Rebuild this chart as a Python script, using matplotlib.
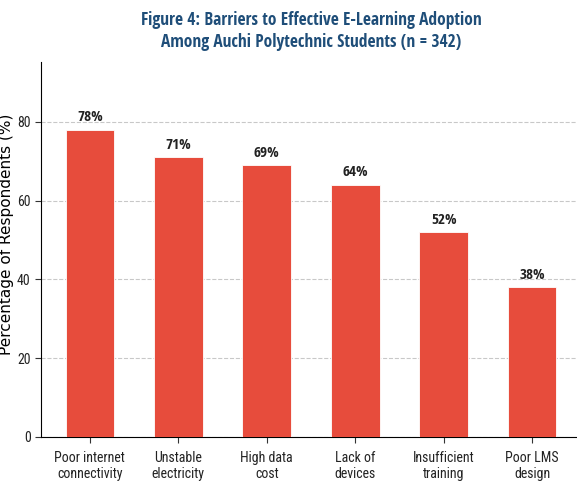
import matplotlib
matplotlib.use("Agg")
import matplotlib.pyplot as plt

# 数据
categories = ["Poor internet\nconnectivity", "Unstable\nelectricity", "High data\ncost",
              "Lack of\ndevices", "Insufficient\ntraining", "Poor LMS\ndesign"]
percentages = [78, 71, 69, 64, 52, 38]

BAR_COLOR = "#E74C3C"
TITLE_COLOR = "#1F4E79"
NARROW_BOLD = ["Open Sans Condensed", "Roboto Condensed", "DejaVu Sans"]
NARROW = ["Roboto Condensed", "DejaVu Sans"]

fig = plt.figure(figsize=(5.77, 4.83), dpi=100)
ax = fig.add_axes([41 / 577, 46 / 483, 540 / 577, 375 / 483])

x = list(range(len(categories)))
bars = ax.bar(x, percentages, width=0.55, color=BAR_COLOR, edgecolor="white",
              linewidth=0.6, zorder=3)

# 柱顶数值标签
for rect, val in zip(bars, percentages):
    ax.annotate(f"{val}%", (rect.get_x() + rect.get_width() / 2, rect.get_height()),
                xytext=(0, 4), textcoords="offset points", ha="center", va="bottom",
                fontsize=11, fontweight="bold", family=NARROW_BOLD, color="#222222")

ax.set_ylim(0, max(percentages) * 1.22)
ax.set_yticks([0, 20, 40, 60, 80])
ax.set_xticks(x)
ax.set_xticklabels(categories, family=NARROW, fontsize=10)
for lab in ax.get_yticklabels():
    lab.set_family(NARROW)
    lab.set_fontsize(10)

ax.set_ylabel("Percentage of Respondents (%)", fontsize=11, family="DejaVu Sans")
ax.yaxis.set_label_coords(-0.05, 0.54)
ax.set_title("Figure 4: Barriers to Effective E-Learning Adoption\n"
             "Among Auchi Polytechnic Students (n = 342)",
             fontsize=12.5, fontweight="bold", family=NARROW_BOLD, color=TITLE_COLOR,
             pad=11, linespacing=1.25)

ax.yaxis.grid(True, linestyle="--", color="#BBBBBB", linewidth=0.8, alpha=0.8, zorder=0)
ax.set_axisbelow(True)
ax.spines["top"].set_visible(False)
ax.spines["right"].set_visible(False)
ax.tick_params(axis="both", length=4, color="#333333", labelcolor="#222222")
ax.tick_params(axis="x", pad=6)

fig.savefig("out.png", dpi=100)
